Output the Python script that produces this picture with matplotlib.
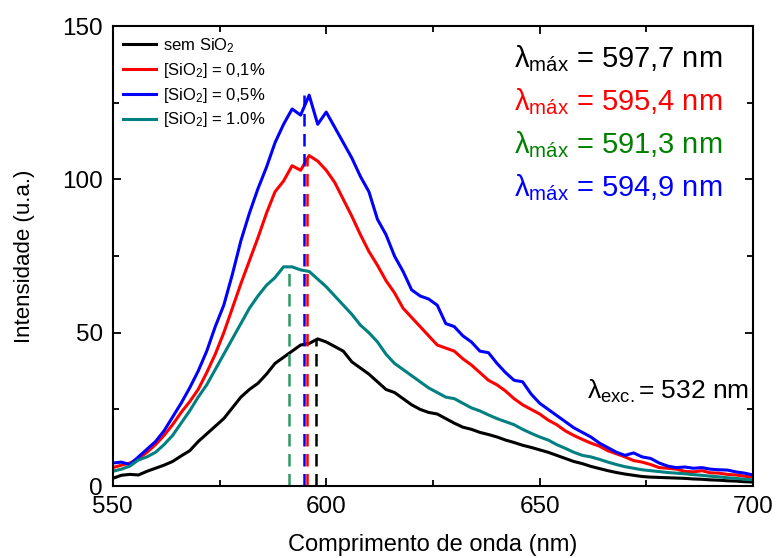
import numpy as np
import matplotlib
matplotlib.use("Agg")
import matplotlib.pyplot as plt
from matplotlib.ticker import MultipleLocator

plt.rcParams["font.family"] = ["Liberation Sans", "DejaVu Sans"]
plt.rcParams["mathtext.fontset"] = "custom"
plt.rcParams["mathtext.rm"] = "Liberation Sans"
plt.rcParams["mathtext.it"] = "Liberation Sans"

# comprimento de onda (nm), passo de 2 nm
comprimento = np.arange(550, 701, 2)

sem_sio2 = [2.5, 3.5, 3.8, 3.6, 4.8, 5.8, 6.8, 8.0, 9.8, 11.5, 14.5, 17.0, 19.5, 22.0, 25.5,
            29.0, 31.5, 33.5, 36.5, 40.0, 42.0, 44.0, 46.0, 46.5, 48.0, 47.0, 45.5, 44.0,
            40.5, 38.5, 36.5, 34.0, 31.5, 30.5, 28.5, 26.5, 25.0, 24.0, 23.5, 22.0, 20.5,
            19.2, 18.5, 17.5, 16.8, 16.0, 15.0, 14.2, 13.3, 12.6, 11.8, 11.0, 10.0, 9.0,
            8.0, 7.3, 6.4, 5.7, 5.0, 4.4, 3.9, 3.5, 3.1, 2.9, 2.8, 2.7, 2.6, 2.5, 2.3,
            2.2, 2.0, 1.9, 1.7, 1.6, 1.4, 1.3]

sio2_01 = [6.0, 6.8, 7.5, 9.0, 11.0, 13.5, 16.5, 20.0, 24.0, 27.5, 31.5, 37.0, 43.0, 50.0,
           58.0, 66.0, 73.5, 81.0, 89.0, 96.0, 99.5, 104.5, 103.0, 107.8, 106.0, 103.0,
           99.0, 93.5, 88.0, 82.0, 76.5, 72.0, 67.0, 63.0, 58.0, 55.0, 52.0, 49.0, 46.0,
           45.0, 44.0, 41.5, 39.5, 37.0, 34.5, 33.0, 31.0, 28.5, 26.5, 25.0, 23.5, 21.5,
           20.0, 18.0, 16.5, 15.2, 14.0, 13.0, 11.5, 10.5, 9.5, 8.3, 7.8, 7.0, 6.0, 5.8,
           5.5, 4.8, 4.6, 5.0, 4.3, 4.2, 3.8, 3.6, 3.2, 2.9]

sio2_05 = [7.5, 7.8, 7.0, 9.5, 12.0, 14.5, 18.0, 22.5, 27.0, 32.0, 37.5, 44.0, 52.0, 59.0,
           69.0, 80.0, 89.0, 97.0, 104.0, 112.0, 118.0, 123.0, 121.0, 127.5, 118.0, 122.0,
           117.0, 112.0, 107.0, 101.0, 96.0, 87.0, 82.0, 75.0, 70.0, 64.0, 62.0, 61.0,
           59.0, 53.0, 52.0, 49.0, 47.0, 44.0, 43.5, 40.0, 37.0, 34.5, 34.0, 30.0, 27.0,
           25.0, 23.0, 21.0, 19.0, 17.5, 16.0, 14.0, 12.5, 11.0, 10.0, 10.8, 9.5, 9.0,
           7.5, 6.5, 6.0, 6.2, 5.8, 6.0, 5.5, 5.3, 5.2, 4.6, 4.2, 3.6]

sio2_10 = [4.8, 5.5, 6.5, 8.5, 9.5, 11.0, 13.5, 16.5, 20.5, 24.5, 29.0, 33.0, 38.0, 43.0,
           48.0, 53.0, 58.0, 62.0, 65.5, 68.0, 71.5, 71.5, 70.5, 70.0, 67.5, 65.0, 62.0,
           59.0, 56.0, 52.5, 50.0, 47.0, 43.0, 40.0, 38.0, 36.0, 34.0, 32.0, 30.5, 29.0,
           28.5, 27.0, 25.5, 24.5, 23.2, 22.0, 21.0, 20.0, 18.5, 17.2, 16.0, 15.0, 13.5,
           12.3, 11.0, 10.0, 9.5, 8.7, 7.8, 7.0, 6.3, 5.8, 5.3, 5.0, 4.7, 4.4, 4.2, 4.0,
           3.7, 3.5, 3.2, 3.0, 2.7, 2.5, 2.2, 2.0]

series = [sem_sio2, sio2_01, sio2_05, sio2_10]
rotulos = ["sem SiO$_2$", "[SiO$_2$] = 0,1%", "[SiO$_2$] = 0,5%", "[SiO$_2$] = 1.0%"]
cores = ["black", "#ff0000", "#0000ff", "#008080"]

# posição e altura dos picos (linhas tracejadas)
lambda_max = [597.7, 595.4, 591.3, 594.9]
altura_pico = [47.8, 107.0, 71.5, 127.5]
cores_pico = ["black", "#ff0000", "#2e9a66", "#0000ff"]
textos_max = ["597,7", "595,4", "591,3", "594,9"]
cores_texto = ["black", "#ff0000", "#008000", "#0000ff"]

fig = plt.figure(figsize=(7.78, 5.58), dpi=100)
ax = fig.add_axes([0.145, 0.129, 0.823, 0.824])

for y, rot, cor in zip(series, rotulos, cores):
    ax.plot(comprimento, y, color=cor, lw=2.2, label=rot)

for lm, h, cor in zip(lambda_max, altura_pico, cores_pico):
    ax.plot([lm, lm], [0, h], color=cor, lw=1.8, linestyle=(0, (5, 3)))

ax.set_xlim(550, 700)
ax.set_ylim(0, 150)
ax.xaxis.set_major_locator(MultipleLocator(50))
ax.xaxis.set_minor_locator(MultipleLocator(25))
ax.yaxis.set_major_locator(MultipleLocator(50))
ax.yaxis.set_minor_locator(MultipleLocator(25))
ax.tick_params(which="both", direction="in", top=True, right=True, width=1.3)
ax.tick_params(which="major", length=6, labelsize=17.5, pad=7)
ax.tick_params(which="minor", length=4)
for s in ax.spines.values():
    s.set_linewidth(1.5)

ax.set_xlabel("Comprimento de onda (nm)", fontsize=17, labelpad=12)
ax.set_ylabel("Intensidade (u.a.)", fontsize=16, labelpad=20)

ax.legend(loc="upper left", frameon=False, fontsize=12, handlelength=2.0,
          handletextpad=0.4, labelspacing=0.35, borderaxespad=0.2)

for i, (t, c) in enumerate(zip(textos_max, cores_texto)):
    ax.text(0.627, 0.93 - i * 0.094, r"$\mathregular{\lambda_{máx}}$ = " + t + " nm",
            transform=ax.transAxes, color=c, fontsize=21, va="center")

ax.text(0.993, 0.205, r"$\mathregular{\lambda_{exc.}}$= 532 nm", transform=ax.transAxes,
        fontsize=19, ha="right", va="center")

fig.savefig("out.png", dpi=100)
